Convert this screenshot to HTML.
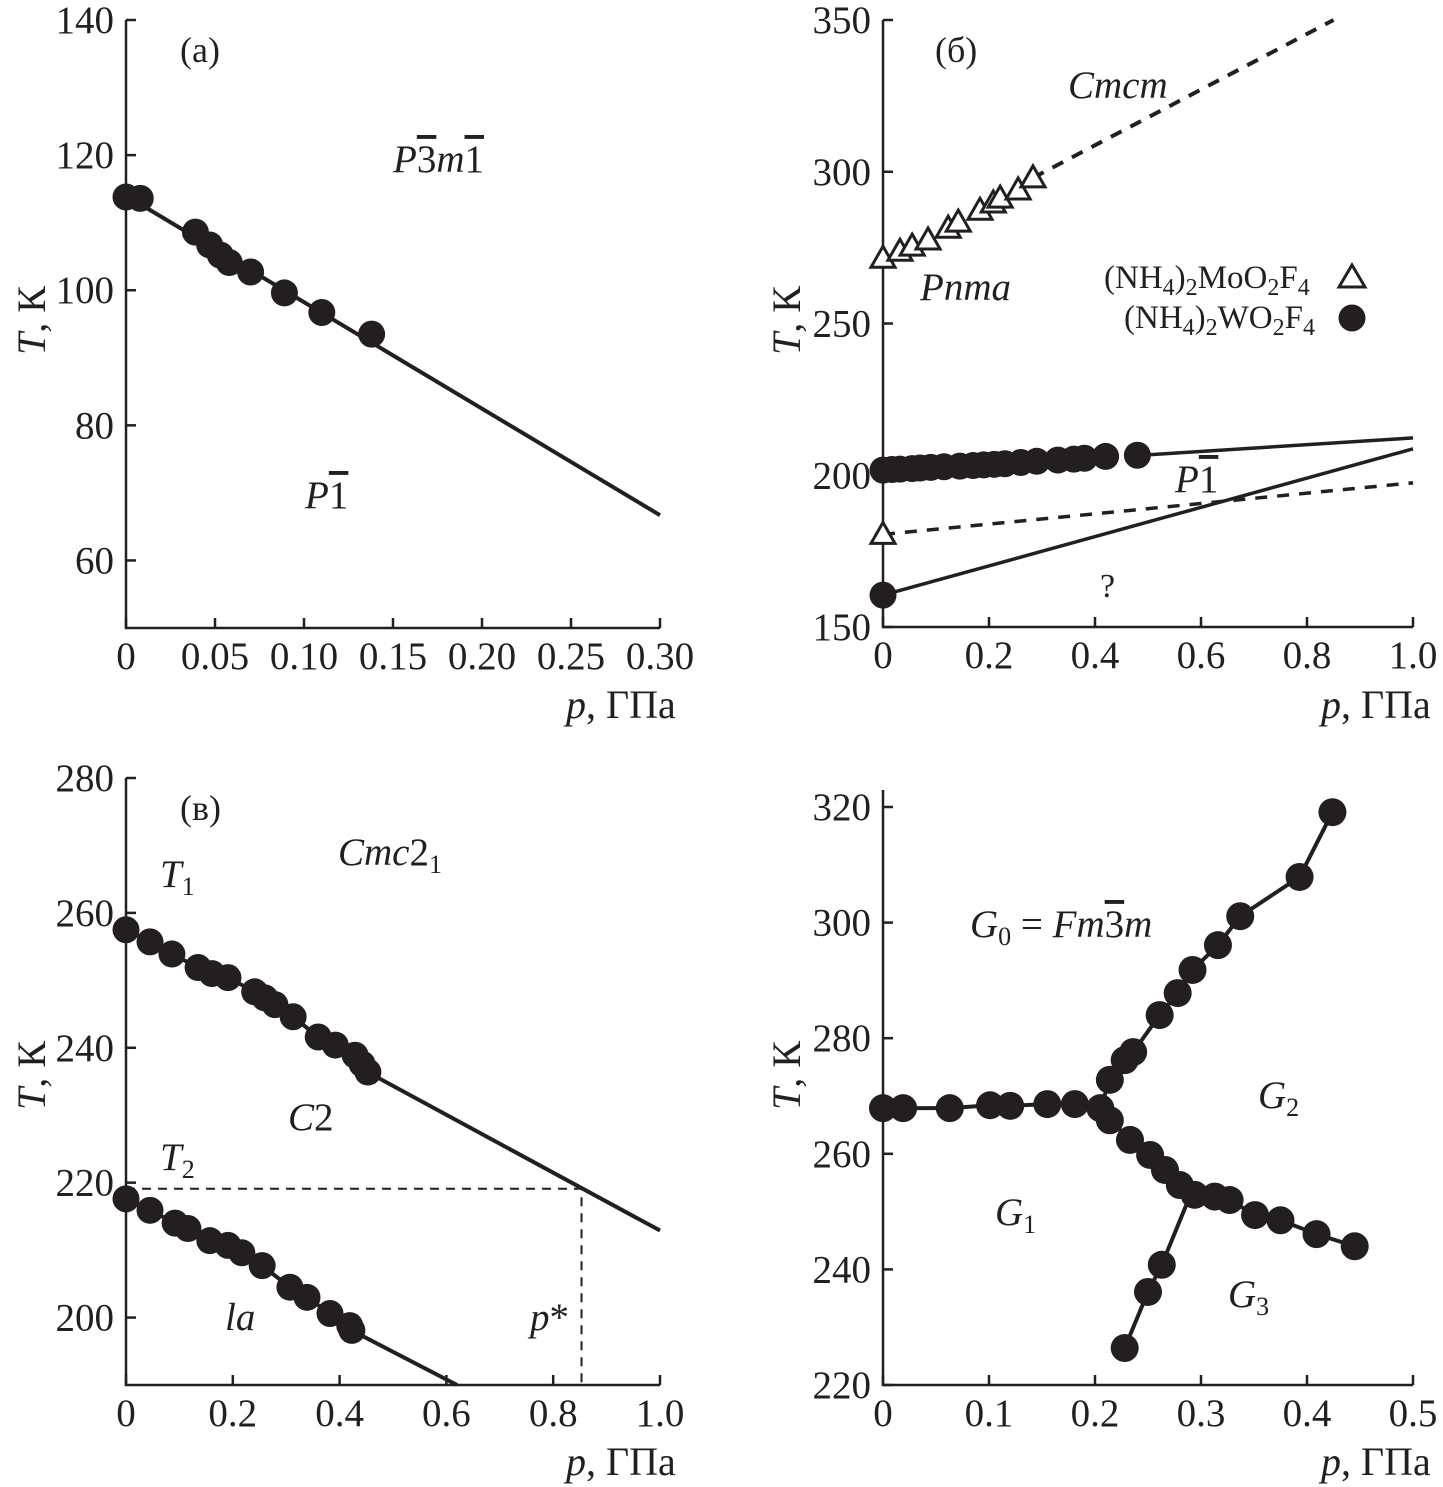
<!DOCTYPE html>
<html><head><meta charset="utf-8"><style>
html,body{margin:0;padding:0;background:#fff}
svg{display:block;font-family:"Liberation Serif",serif}
text{fill:#231f20}
.ob{text-decoration:overline}
</style></head><body>
<svg id="fig" width="1443" height="1487" viewBox="0 0 1443 1487"></svg>
<script>
// ===== Panel (a) data =====
const aTicksX=[0,0.05,0.10,0.15,0.20,0.25,0.30];
const aTickLabelsX=["0","0.05","0.10","0.15","0.20","0.25","0.30"];
const aTicksY=[60,80,100,120,140];
const aP=[0,0.008,0.039,0.047,0.053,0.058,0.070,0.089,0.110,0.138];
const aT=[113.8,113.6,108.6,106.7,105.2,104.1,102.7,99.6,96.7,93.5];
const aLineP=[0,0.30];
const aLineT=[114,66.7];
// ===== Panel (b) data =====
const bTicksX=[0,0.2,0.4,0.6,0.8,1.0];
const bTickLabelsX=["0","0.2","0.4","0.6","0.8","1.0"];
const bTicksY=[150,200,250,300,350];
const bTriP=[0,0.032,0.055,0.085,0.123,0.142,0.183,0.208,0.221,0.255,0.283];
const bTriT=[271.5,273.8,275.5,277.5,281.4,283.4,287.3,289.7,291.3,294,298];
const bCircP=[0,0.017,0.032,0.055,0.07,0.09,0.115,0.145,0.17,0.19,0.21,0.23,0.26,0.29,0.33,0.36,0.38,0.42,0.48];
const bCircT=[201.7,201.9,202,202.2,202.4,202.6,202.8,203,203.2,203.4,203.6,203.8,204.2,204.6,205,205.3,205.6,206.2,206.6];
const bUpperLineP=[0.48,1.0];
const bUpperLineT=[206.5,212.3];
const bDashHiP=[0.283,0.85];
const bDashHiT=[298,350];
const bLowerLineP=[0,1.0];
const bLowerLineT=[160.5,208.7];
const bDashLoP=[0,1.0];
const bDashLoT=[180.5,197.5];
const bLowCircP=[0];
const bLowCircT=[160.5];
const bLowTriP=[0];
const bLowTriT=[180.5];
// ===== Panel (c) data =====
const cTicksX=[0,0.2,0.4,0.6,0.8,1.0];
const cTickLabelsX=["0","0.2","0.4","0.6","0.8","1.0"];
const cTicksY=[200,220,240,260,280];
const cUpP=[0,0.045,0.086,0.135,0.161,0.191,0.241,0.260,0.279,0.313,0.360,0.392,0.429,0.442,0.453];
const cUpT=[257.5,255.7,253.9,251.9,251,250.4,248.3,247.4,246.4,244.6,241.6,240.4,238.9,237.6,236.4];
const cUpLineP=[0.45,1.0];
const cUpLineT=[236.5,212.9];
const cLoP=[0,0.045,0.092,0.116,0.157,0.191,0.217,0.255,0.307,0.339,0.382,0.419,0.423];
const cLoT=[217.6,215.9,214,213.2,211.4,210.7,209.6,207.7,204.5,203,200.6,198.8,198.1];
const cLoLineP=[0.42,0.62];
const cLoLineT=[198.2,190];
const cPstar=0.853;
const cTstar=219.1;
// ===== Panel (d) data =====
const dTicksX=[0,0.1,0.2,0.3,0.4,0.5];
const dTickLabelsX=["0","0.1","0.2","0.3","0.4","0.5"];
const dTicksY=[220,240,260,280,300,320];
const dMainP=[0,0.019,0.063,0.101,0.120,0.155,0.181,0.205,0.214,0.233,0.252,0.266,0.280,0.294,0.313,0.327,0.351,0.375,0.409,0.445];
const dMainT=[267.9,267.9,267.9,268.4,268.3,268.6,268.6,267.9,265.8,262.4,259.8,257.2,254.6,252.9,252.6,252,249.4,248.5,246.1,244];
const dUpP=[0.205,0.214,0.228,0.236,0.261,0.278,0.292,0.316,0.337,0.393,0.424];
const dUpT=[267.9,272.8,276.2,277.6,284,287.8,291.8,296.1,301.1,307.9,319.1];
const dLowP=[0.228,0.25,0.263,0.290];
const dLowT=[226.4,236.1,240.8,252.9];
const dLowMarkN=3;

const NS="http://www.w3.org/2000/svg";
const fig=document.getElementById('fig');
const FS=39;
function mk(tag,attrs,parent){const e=document.createElementNS(NS,tag);for(const k in attrs)e.setAttribute(k,attrs[k]);(parent||fig).appendChild(e);return e;}
function axisFns(x0,x1,pmin,pmax,yTop,yBot,tmin,tmax){
  return {x:p=>x0+(p-pmin)/(pmax-pmin)*(x1-x0), y:t=>yBot-(t-tmin)/(tmax-tmin)*(yBot-yTop)};
}
function frame(g,ax,ticksX,labelsX,ticksY,xAxisY,yAxisX,axisTop,axisRight){
  const fr=mk('g',{},g);
  
  
  mk('path',{d:`M${yAxisX},${axisTop} V${xAxisY} H${axisRight}`,fill:'none',stroke:'#231f20','stroke-width':2.5},fr);
  ticksX.forEach((v,i)=>{const x=ax.x(v);
    mk('line',{x1:x,x2:x,y1:xAxisY,y2:xAxisY-10,stroke:'#231f20','stroke-width':2.5},fr);
    const t=mk('text',{x:x,y:xAxisY+41,'font-size':FS,'text-anchor':'middle'},fr);t.textContent=labelsX[i];
    
    
  });
  ticksY.forEach(v=>{const y=ax.y(v);
    mk('line',{x1:yAxisX,x2:yAxisX+10,y1:y,y2:y,stroke:'#231f20','stroke-width':2.5},fr);
    const t=mk('text',{x:yAxisX-12,y:y+13,'font-size':FS,'text-anchor':'end'},fr);t.textContent=v;
    
    
  });
}
function line(g,ax,P,T,w,dash,name){const d=P.map((p,i)=>(i?'L':'M')+ax.x(p)+','+ax.y(T[i])).join(' ');
  const e=mk('path',{d:d,fill:'none',stroke:'#231f20','stroke-width':w||4,'stroke-dasharray':dash||'none'},g);
  
  }
function dots(g,ax,P,T,r,n){const N=n||P.length;for(let i=0;i<N;i++){const c=mk('circle',{cx:ax.x(P[i]),cy:ax.y(T[i]),r:r||13.5,fill:'#231f20'},g);
  
  }}
function tris(g,ax,P,T){P.forEach((p,i)=>{const x=ax.x(p),y=ax.y(T[i]);
  const e=mk('path',{d:`M${x},${y-12} L${x+12},${y+9} L${x-12},${y+9} Z`,fill:'#fff',stroke:'#231f20','stroke-width':3},g);
  
  });}
function label(g,x,y,html,size,name,rot){const t=mk('text',{x:x,y:y,'font-size':size||FS},g);t.innerHTML=html;
  if(rot)t.setAttribute('transform',`rotate(-90 ${x} ${y})`);
  
  return t;}
function xTitle(g,x,y){label(g,x,y,'<tspan font-style="italic">p</tspan>, ГПа',40,'x-axis-title');}
function yTitle(g,x,y){label(g,x,y,'<tspan font-style="italic">T</tspan>, К',40,'y-axis-title',true);}

// ---- Panel a ----
const ga=mk('g',{});
const A=axisFns(126,660,0,0.30,20,628,50,140);
frame(ga,A,aTicksX,aTickLabelsX,aTicksY,628,126,20,660);
line(ga,A,aLineP,aLineT,4);
dots(ga,A,aP,aT);
label(ga,180,62,'(a)',36,'panel-label');
label(ga,393,172,'<tspan font-style="italic">P</tspan><tspan class="ob">3</tspan><tspan font-style="italic">m</tspan><tspan class="ob">1</tspan>',39,'phase-label');
label(ga,305,508,'<tspan font-style="italic">P</tspan><tspan class="ob">1</tspan>',39,'phase-label');
xTitle(ga,566,718);yTitle(ga,45,355);

// ---- Panel b ----
const gb=mk('g',{});
const B=axisFns(883,1413,0,1.0,20,627,150,350);
frame(gb,B,bTicksX,bTickLabelsX,bTicksY,627,883,20,1413);
line(gb,B,bDashHiP,bDashHiT,4,'12,10','dashed-boundary');
line(gb,B,bUpperLineP,bUpperLineT,3.5);
line(gb,B,bLowerLineP,bLowerLineT,3.5);
line(gb,B,bDashLoP,bDashLoT,3.5,'12,10','dashed-boundary');
dots(gb,B,bCircP,bCircT);
dots(gb,B,bLowCircP,bLowCircT);
tris(gb,B,bTriP,bTriT);
tris(gb,B,bLowTriP,bLowTriT);
label(gb,935,62,'(б)',36,'panel-label');
label(gb,1068,98,'<tspan font-style="italic">Cmcm</tspan>',39,'phase-label');
label(gb,920,300,'<tspan font-style="italic">Pnma</tspan>',39,'phase-label');
label(gb,1175,492,'<tspan font-style="italic">P</tspan><tspan class="ob">1</tspan>',39,'phase-label');
label(gb,1100,597,'?',34,'phase-label');
label(gb,1104,288,'(NH<tspan font-size="24" dy="7">4</tspan><tspan dy="-7">)</tspan><tspan font-size="24" dy="7">2</tspan><tspan dy="-7">MoO</tspan><tspan font-size="24" dy="7">2</tspan><tspan dy="-7">F</tspan><tspan font-size="24" dy="7">4</tspan>',33,'legend-entry-mo');
label(gb,1124,328,'(NH<tspan font-size="24" dy="7">4</tspan><tspan dy="-7">)</tspan><tspan font-size="24" dy="7">2</tspan><tspan dy="-7">WO</tspan><tspan font-size="24" dy="7">2</tspan><tspan dy="-7">F</tspan><tspan font-size="24" dy="7">4</tspan>',33,'legend-entry-w');
(function(){const e=mk('path',{d:'M1352,265 L1365,287 L1339,287 Z',fill:'#fff',stroke:'#231f20','stroke-width':3},gb);

const c=mk('circle',{cx:1352,cy:318,r:13.5,fill:'#231f20'},gb);
})();
xTitle(gb,1321,718);yTitle(gb,800,355);

// ---- Panel c ----
const gc=mk('g',{});
const C=axisFns(126,660,0,1.0,778,1385,190,280);
frame(gc,C,cTicksX,cTickLabelsX,cTicksY,1385,126,778,660);
mk('path',{d:`M${C.x(0)},${C.y(cTstar)} H${C.x(cPstar)} V${C.y(190)}`,fill:'none',stroke:'#231f20','stroke-width':2,'stroke-dasharray':'9,7'},gc);
line(gc,C,cUpLineP,cUpLineT,4);
line(gc,C,cLoLineP,cLoLineT,4);
line(gc,C,cUpP,cUpT,4);
line(gc,C,cLoP,cLoT,4);
dots(gc,C,cUpP,cUpT);
dots(gc,C,cLoP,cLoT);
label(gc,180,820,'(в)',36,'panel-label');
label(gc,338,865,'<tspan font-style="italic">Cmc</tspan>2<tspan font-size="26" dy="8">1</tspan>',39,'phase-label');
label(gc,160,887,'<tspan font-style="italic">T</tspan><tspan font-size="26" dy="8">1</tspan>',39,'t1-label');
label(gc,160,1170,'<tspan font-style="italic">T</tspan><tspan font-size="26" dy="8">2</tspan>',39,'t2-label');
label(gc,288,1130,'<tspan font-style="italic">C</tspan>2',39,'phase-label');
label(gc,225,1330,'<tspan font-style="italic">la</tspan>',39,'phase-label');
label(gc,530,1330,'<tspan font-style="italic">p</tspan>*',39,'p-star-label');
xTitle(gc,566,1475);yTitle(gc,45,1110);

// ---- Panel d ----
const gd=mk('g',{});
const D=axisFns(883,1413,0,0.5,807,1385,220,320);
frame(gd,D,dTicksX,dTickLabelsX,dTicksY,1385,883,790,1413);
line(gd,D,dMainP,dMainT,4);
line(gd,D,dUpP,dUpT,4);
line(gd,D,dLowP,dLowT,4);
dots(gd,D,dMainP,dMainT,14);
dots(gd,D,dUpP.slice(1),dUpT.slice(1),14);
dots(gd,D,dLowP,dLowT,14,dLowMarkN);
label(gd,970,937,'<tspan font-style="italic">G</tspan><tspan font-size="26" dy="8">0</tspan><tspan dy="-8"> = </tspan><tspan font-style="italic">Fm</tspan><tspan class="ob">3</tspan><tspan font-style="italic">m</tspan>',39,'phase-label');
label(gd,1258,1108,'<tspan font-style="italic">G</tspan><tspan font-size="26" dy="8">2</tspan>',39,'phase-label');
label(gd,995,1225,'<tspan font-style="italic">G</tspan><tspan font-size="26" dy="8">1</tspan>',39,'phase-label');
label(gd,1228,1307,'<tspan font-style="italic">G</tspan><tspan font-size="26" dy="8">3</tspan>',39,'phase-label');
xTitle(gd,1321,1475);yTitle(gd,800,1110);
</script>
</body></html>
